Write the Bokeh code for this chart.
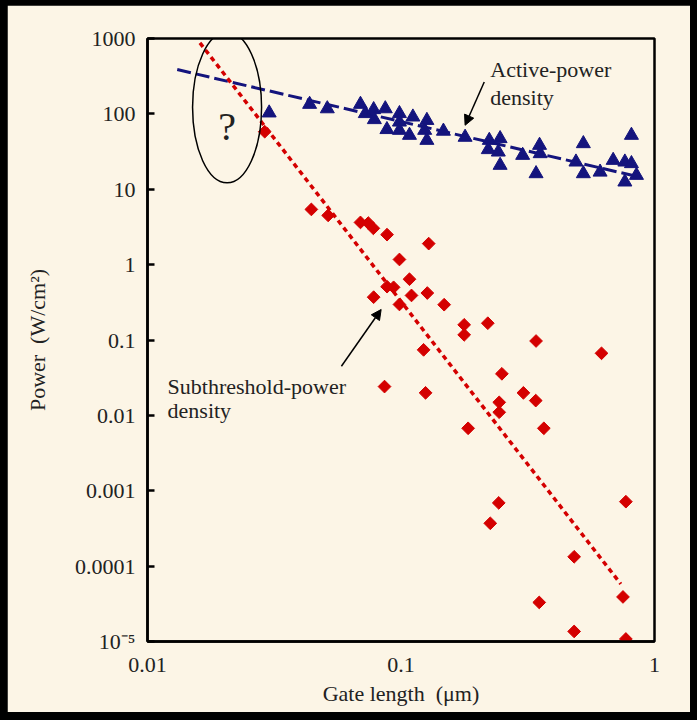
from math import pi
from bokeh.plotting import figure
from bokeh.models import (Range1d, FixedTicker, Label, Arrow, NormalHead,
                          GlobalInlineStyleSheet)
from bokeh.embed import file_html
from bokeh.resources import INLINE

# ---- data ----
active_x = [0.0302, 0.0436, 0.0512, 0.0692, 0.0723, 0.0780, 0.0785, 0.0867, 0.0880,
            0.0986, 0.0986, 0.0986, 0.1114, 0.108, 0.1265, 0.124, 0.1265, 0.147,
            0.179, 0.223, 0.246, 0.221, 0.242, 0.246, 0.302, 0.352, 0.354, 0.341,
            0.524, 0.490, 0.524, 0.610, 0.687, 0.764, 0.811, 0.849, 0.764, 0.811]
active_y = [103, 134, 117, 134, 101, 114, 84, 117, 62,
            101, 78, 60.6, 91, 52, 82, 60.6, 44.6, 59,
            49, 44.6, 47, 33.6, 31.2, 20.8, 28.2, 38.3, 29.7, 16.1,
            40.3, 23, 16.1, 16.9, 24.2, 23, 52, 15.3, 12.5, 21.9]

sub_x = [0.029, 0.0443, 0.0516, 0.0692, 0.0743, 0.0778, 0.0881, 0.1286, 0.0986, 0.108,
         0.0881, 0.0935, 0.078, 0.110, 0.127, 0.0986, 0.148, 0.1775, 0.1775, 0.220,
         0.1228, 0.341, 0.618, 0.250, 0.0861, 0.125, 0.304, 0.340, 0.244, 0.244,
         0.184, 0.366, 0.243, 0.225, 0.771, 0.482, 0.351, 0.751, 0.482, 0.771]
sub_y = [58, 5.4, 4.5, 3.63, 3.56, 3.03, 2.5, 1.9, 1.17, 0.64,
         0.51, 0.50, 0.37, 0.39, 0.42, 0.296, 0.294, 0.159, 0.117, 0.167,
         0.074, 0.097, 0.0666, 0.0356, 0.0241, 0.0199, 0.0199, 0.0157, 0.0149, 0.011,
         0.00674, 0.00674, 0.00069, 0.00037, 0.000716, 0.000133, 3.3e-5, 3.9e-5, 1.36e-5, 1.08e-5]

active_fit_x = [0.0131, 0.875]
active_fit_y = [387, 14.5]
sub_fit_x = [0.0161, 0.736]
sub_fit_y = [875, 5.8e-5]

y_ticks = [1e-5, 1e-4, 1e-3, 1e-2, 1e-1, 1, 10, 100, 1000]
y_tick_labels = ["10\u207b\u2075", "0.0001", "0.001", "0.01", "0.1", "1", "10", "100", "1000"]
x_ticks = [0.01, 0.1, 1]
x_tick_labels = ["0.01", "0.1", "1"]

question_x = [0.0206]
question_y = [122]

FONT = "Liberation Serif"
BG = "#FCF5E6"
BLUE = "#14147D"
RED = "#D40000"

p = figure(width=683, height=707, x_axis_type="log", y_axis_type="log",
           x_range=Range1d(0.01, 1), y_range=Range1d(1e-5, 1000),
           output_backend="svg", toolbar_location=None,
           min_border_left=140, min_border_right=36, min_border_top=33,
           min_border_bottom=71)
p.stylesheets = [GlobalInlineStyleSheet(
    css="body { background: #000 !important; padding: 5px 0 0 7px !important; }")]
p.background_fill_color = BG
p.border_fill_color = BG
p.outline_line_color = "black"
p.outline_line_width = 2.5
p.grid.visible = False

# axes
p.yaxis.ticker = FixedTicker(ticks=y_ticks, minor_ticks=[])
p.yaxis.major_label_overrides = dict(zip(y_ticks, y_tick_labels))
p.xaxis.ticker = FixedTicker(ticks=x_ticks, minor_ticks=[])
p.xaxis.major_label_overrides = dict(zip(x_ticks, x_tick_labels))
for ax in (p.xaxis, p.yaxis):
    ax.axis_line_color = "black"
    ax.axis_line_width = 2.5
    ax.major_label_text_font = FONT
    ax.major_label_text_font_size = "22px"
    ax.major_label_text_color = "#222222"
    ax.axis_label_text_font = FONT
    ax.axis_label_text_font_size = "22px"
    ax.axis_label_text_font_style = "normal"
    ax.axis_label_text_color = "#222222"
    ax.minor_tick_line_color = None
p.yaxis.major_tick_in = 7
p.yaxis.major_tick_out = 0
p.yaxis.major_tick_line_width = 2.5
p.yaxis.major_label_standoff = 12
p.yaxis.axis_label = "Power\u00a0\u00a0(W/cm\u00b2)"
p.yaxis.axis_label_standoff = 22
p.xaxis.major_tick_in = 0
p.xaxis.major_tick_out = 0
p.xaxis.major_label_standoff = 16
p.xaxis.axis_label = "Gate length\u00a0\u00a0(\u03bcm)"
p.xaxis.axis_label_standoff = 6

# trend lines
p.line(active_fit_x, active_fit_y, line_color=BLUE, line_width=3, line_dash="14 5")
p.line(sub_fit_x, sub_fit_y, line_color=RED, line_width=3.5, line_dash="5 4")

# points
p.scatter(active_x, active_y, marker="triangle", size=14, fill_color=BLUE,
          line_color=BLUE)
p.scatter(sub_x, sub_y, marker="square", size=9, angle=pi / 4, fill_color=RED,
          line_color=RED)

# ellipse with question mark
p.ellipse(question_x, question_y, width=69, height=151, width_units="screen",
          height_units="screen", fill_color=None, line_color="black", line_width=1.5)
p.add_layout(Label(x=0.0206, y=67, text="?", text_font=FONT, text_font_size="40px",
                   text_align="center", text_baseline="middle", text_color="#222222"))

# annotations
for txt, xx, yy in [("Active-power", 0.225, 387), ("density", 0.225, 163),
                    ("Subthreshold-power", 0.012, 0.0241), ("density", 0.012, 0.0116)]:
    p.add_layout(Label(x=xx, y=yy, text=txt, text_font=FONT, text_font_size="22px",
                       text_align="left", text_baseline="middle", text_color="#222222"))

p.add_layout(Arrow(x_start=0.213, y_start=265, x_end=0.179, y_end=70.6,
                   line_color="black", line_width=1.5,
                   end=NormalHead(size=10, fill_color="black", line_color="black")))
p.add_layout(Arrow(x_start=0.0582, y_start=0.0449, x_end=0.0835, y_end=0.254,
                   line_color="black", line_width=1.5,
                   end=NormalHead(size=10, fill_color="black", line_color="black")))

open("out.html", "w").write(file_html(p, INLINE))
